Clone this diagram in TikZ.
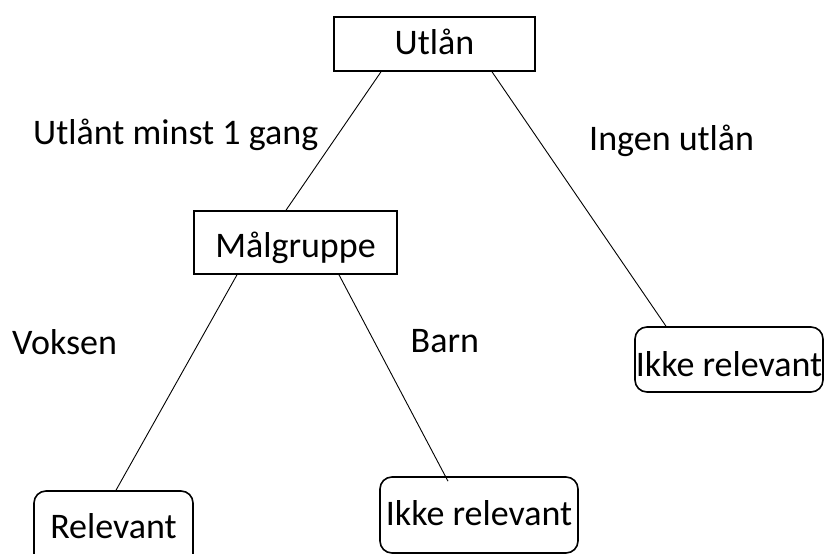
\documentclass[tikz,border=0pt]{standalone}
\usepackage{fontspec}
\setmainfont{Carlito}
\begin{document}
\begin{tikzpicture}[x=1pt,y=-1pt,
  every node/.style={font=\fontsize{36pt}{42pt}\selectfont, inner sep=0pt, text depth=0pt},
  sqbox/.style={draw, line width=1.6pt},
  rbox/.style={draw, line width=1.6pt, rounded corners=12pt},
  conn/.style={line width=0.9pt},
  lbl/.style={anchor=base west}]
\useasboundingbox (0,0) rectangle (825,554);
\fill[white] (0,0) rectangle (825,554);
\node[sqbox, minimum width=201pt, minimum height=54pt, text height=20pt] (utlan) at (434.5,44) {Utlån};
\node[sqbox, minimum width=203pt, minimum height=63pt, text height=29pt] (malgruppe) at (295.5,242.5) {Målgruppe};
\node[rbox, minimum width=159pt, minimum height=79pt, text height=15pt] (relevant) at (113.5,530.5) {Relevant};
\node[rbox, minimum width=198pt, minimum height=76pt, text height=20pt] (ikkeA) at (479,515) {Ikke relevant};
\node[rbox, minimum width=188pt, minimum height=65pt, text height=34pt] (ikkeB) at (729,359.5) {Ikke relevant};
\draw[conn] ([xshift=-53.5pt]utlan.south) -- ([xshift=-9.5pt]malgruppe.north);
\draw[conn] ([xshift=57.5pt]utlan.south) -- ([xshift=-63pt]ikkeB.north);
\draw[conn] ([xshift=-58.5pt]malgruppe.south) -- ([xshift=2.5pt]relevant.north);
\draw[conn] ([xshift=43.5pt]malgruppe.south) -- ([xshift=-31pt,yshift=-5pt]ikkeA.north);
\node[lbl] (l1) at (33,144) {Utlånt minst 1 gang};
\node[lbl] (l2) at (589,150) {Ingen utlån};
\node[lbl] (l3) at (12,354) {Voksen};
\node[lbl] (l4) at (410.5,352) {Barn};
\end{tikzpicture}
\end{document}
